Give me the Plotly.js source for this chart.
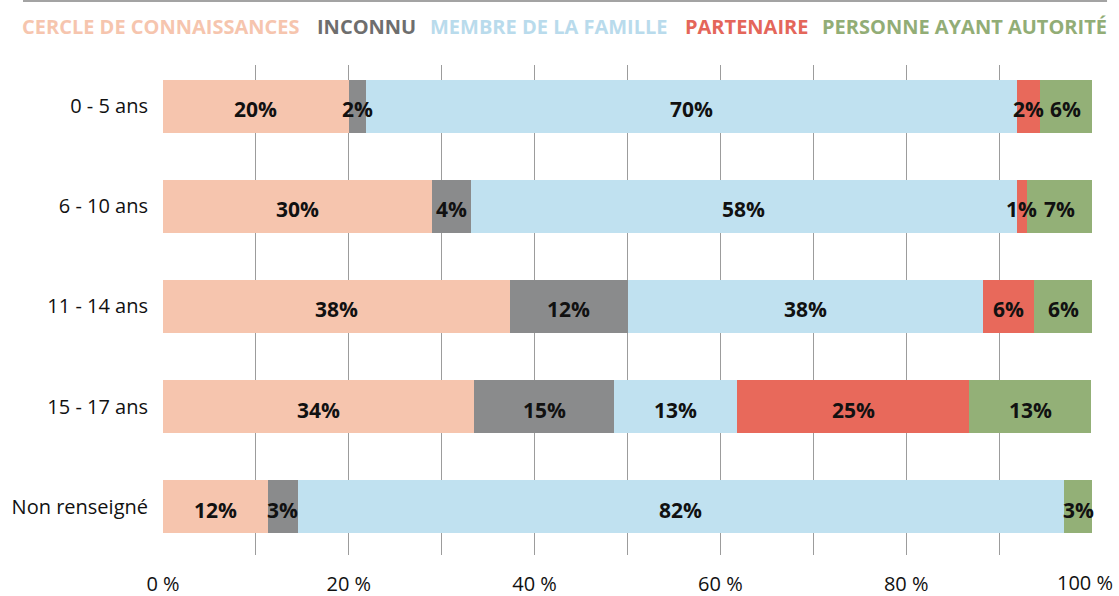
<!DOCTYPE html>
<html>
<head>
<meta charset="utf-8">
<script src="https://cdn.plot.ly/plotly-3.0.1.min.js"></script>
<style>html,body{margin:0;padding:0;background:#fff;}#chart{width:1119px;height:596px;}</style>
</head>
<body>
<div id="chart"></div>
<script>
// Categories (top to bottom)
const categories = ["0 - 5 ans", "6 - 10 ans", "11 - 14 ans", "15 - 17 ans", "Non renseigné"];

// Series names
const seriesNames = ["CERCLE DE CONNAISSANCES", "INCONNU", "MEMBRE DE LA FAMILLE", "PARTENAIRE", "PERSONNE AYANT AUTORITÉ"];

// Bar widths (%)
const cercle     = [20.0, 29.0, 37.3, 33.5, 11.3];
const inconnu    = [1.8, 4.1, 12.7, 15.1, 3.2];
const membre     = [70.1, 58.8, 38.3, 13.2, 82.5];
const partenaire = [2.5, 1.1, 5.5, 25.0, 0];
const autorite   = [5.6, 7.0, 6.2, 13.1, 3.1];

// Printed labels
const cercleLabels     = ["20%", "30%", "38%", "34%", "12%"];
const inconnuLabels    = ["2%", "4%", "12%", "15%", "3%"];
const membreLabels     = ["70%", "58%", "38%", "13%", "82%"];
const partenaireLabels = ["2%", "1%", "6%", "25%", ""];
const autoriteLabels   = ["6%", "7%", "6%", "13%", "3%"];

// X tick labels
const xTickVals = [0, 10, 20, 30, 40, 50, 60, 70, 80, 90, 100];
const xTickText = ["0 %", "", "20 %", "", "40 %", "", "60 %", "", "80 %", "", "100 %"];

const barColors    = ["#f6c5ae", "#8a8b8c", "#c0e1f0", "#e8695b", "#93b077"];
const legendColors = ["#f6c5ae", "#6e6e6e", "#b9dbec", "#e4665a", "#92ad76"];
const legendX = [-0.1539, 0.1636, 0.2853, 0.5597, 0.7072];

const seriesValues = [cercle, inconnu, membre, partenaire, autorite];
const seriesLabels = [cercleLabels, inconnuLabels, membreLabels, partenaireLabels, autoriteLabels];

const traces = seriesValues.map((vals, i) => ({
  type: "bar",
  orientation: "h",
  name: seriesNames[i],
  y: categories,
  x: vals,
  marker: {color: barColors[i], line: {width: 0}},
  width: 0.53,
  hoverinfo: "skip"
}));

// Legend as coloured text
const annotations = seriesNames.map((n, i) => ({
  text: n,
  xref: "paper", yref: "paper",
  x: legendX[i], y: 1.0776,
  xanchor: "left", yanchor: "middle",
  showarrow: false,
  font: {family: "Open Sans", size: 20, color: legendColors[i], weight: 700}
}));

// Segment labels centred on each stacked segment (positions from the data)
const running = categories.map(() => 0);
seriesValues.forEach((vals, i) => {
  vals.forEach((v, k) => {
    const mid = running[k] + v / 2;
    running[k] += v;
    if (seriesLabels[i][k]) {
      annotations.push({
        text: seriesLabels[i][k],
        xref: "x", yref: "y",
        x: mid, y: k,
        xanchor: "center", yanchor: "middle",
        yshift: -3,
        showarrow: false,
        font: {family: "Open Sans", size: 21, color: "#111111", weight: 700}
      });
    }
  });
});

// The last x tick label sits right-aligned near the page edge, as in the reference
const lastIdx = xTickVals.length - 1;
const axisTickText = xTickText.map((t, i) => (i === lastIdx ? "" : t));
annotations.push({
  text: xTickText[lastIdx],
  xref: "x", yref: "paper",
  x: xTickVals[lastIdx], y: 0,
  xanchor: "right", yanchor: "top",
  xshift: 22, yshift: -13,
  borderpad: 0,
  showarrow: false,
  font: {family: "Open Sans", size: 20, color: "#111111"}
});

const layout = {
  width: 1119, height: 596,
  margin: {l: 163, r: 27, t: 65, b: 41},
  paper_bgcolor: "#ffffff",
  plot_bgcolor: "#ffffff",
  barmode: "stack",
  showlegend: false,
  xaxis: {
    range: [0, 100],
    tickvals: xTickVals,
    ticktext: axisTickText,
    showgrid: true,
    gridcolor: "#9c9c9c",
    gridwidth: 1,
    zeroline: false,
    showline: false,
    ticks: "outside",
    ticklen: 11,
    tickcolor: "rgba(0,0,0,0)",
    tickfont: {family: "Open Sans", size: 20, color: "#111111"},
    fixedrange: true
  },
  yaxis: {
    type: "category",
    categoryorder: "array",
    categoryarray: categories,
    range: [4.48, -0.41],
    showgrid: false,
    zeroline: false,
    showline: false,
    ticks: "outside",
    ticklen: 10,
    tickcolor: "rgba(0,0,0,0)",
    tickfont: {family: "Open Sans", size: 20, color: "#111111"},
    fixedrange: true
  },
  annotations: annotations,
  shapes: [{
    type: "line", xref: "paper", yref: "paper",
    x0: -0.1507, x1: 1.0162, y0: 1.1306, y1: 1.1306,
    line: {color: "#a3a3a3", width: 2}
  }]
};

Plotly.newPlot("chart", traces, layout, {displayModeBar: false, staticPlot: true});
</script>
</body>
</html>
